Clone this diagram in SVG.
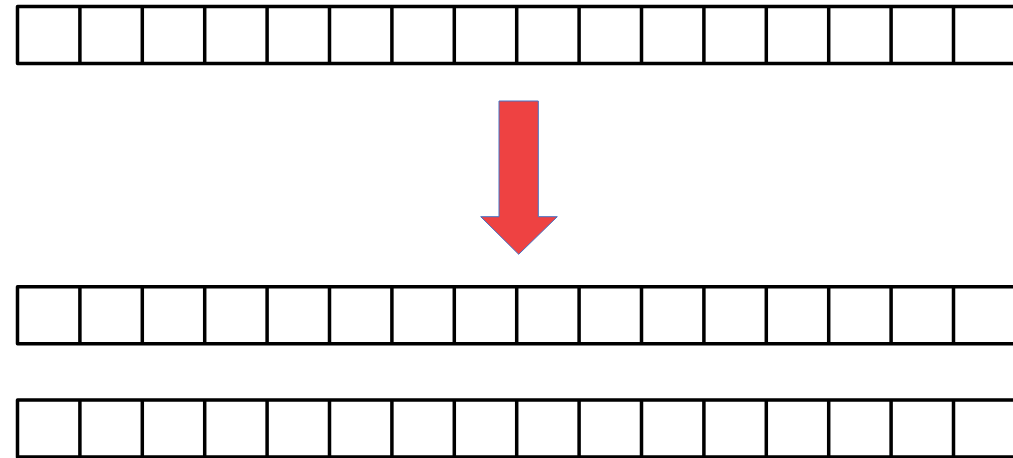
<svg xmlns="http://www.w3.org/2000/svg" width="1013" height="458" viewBox="0 0 1013 458">
<defs>
<style>
.grid{fill:none;stroke:#000;stroke-width:3.5;stroke-linejoin:round;stroke-linecap:butt}
.arrow{fill:#EE4242;stroke:#4472C4;stroke-width:1}
</style>
<g id="cells">
<path d="M1020,0 H17.5 V57 H1020 M79.9,0 V57 M142.3,0 V57 M204.7,0 V57 M267.1,0 V57 M329.5,0 V57 M391.9,0 V57 M454.3,0 V57 M516.7,0 V57 M579.1,0 V57 M641.5,0 V57 M703.9,0 V57 M766.3,0 V57 M828.7,0 V57 M891.1,0 V57 M953.5,0 V57"/>
</g>
</defs>
<rect width="1013" height="458" fill="#fff"/>
<g id="row1" class="grid" transform="translate(0,6.5)"><use href="#cells"/></g>
<g id="row2" class="grid" transform="translate(0,286.7)"><use href="#cells"/></g>
<g id="row3" class="grid" transform="translate(0,400)"><use href="#cells"/></g>
<g id="connectors">
<polygon class="arrow" points="499,101 538.3,101 538.3,216.7 557.3,216.7 518.7,254.3 480.7,216.7 499,216.7"/>
</g>
</svg>
